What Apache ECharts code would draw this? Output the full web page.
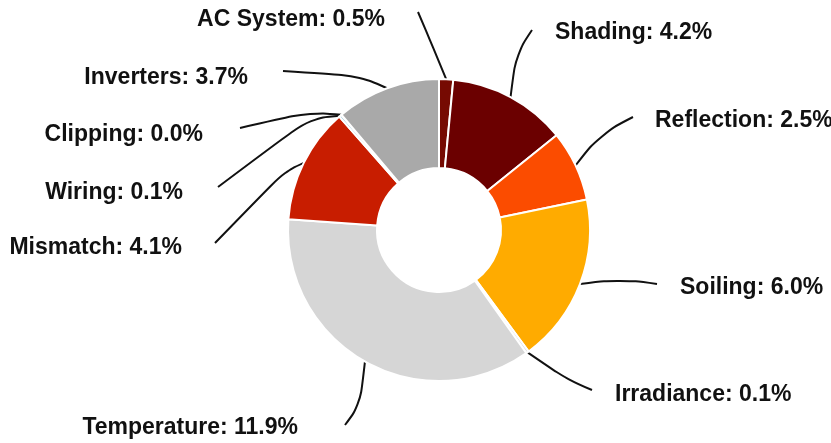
<!DOCTYPE html>
<html lang="en">
<head>
    <meta charset="UTF-8">
    <title>Losses</title>
    <script src="https://cdn.jsdelivr.net/npm/echarts@6/dist/echarts.min.js"></script>
    <style>
        html, body { margin: 0; padding: 0; background: #fff; }
    </style>
</head>
<body>
<div id="main" style="width: 831px;height:443px;"></div>

<script type="text/javascript">
    // data, clockwise from the top
    var categories = ['AC System', 'Shading', 'Reflection', 'Soiling', 'Irradiance',
        'Temperature', 'Mismatch', 'Wiring', 'Clipping', 'Inverters'];
    var lossValues = [0.5, 4.2, 2.5, 6.0, 0.1, 11.9, 4.1, 0.1, 0.0, 3.7];

    // slice colours
    var palette = ['#760a02', '#6b0000', '#fb4c00', '#ffab00', '#dcdcdc',
        '#d6d6d6', '#c81d00', '#a9cfe0', '#8c8c8c', '#a9a9a9'];

    // where each label sits, plus the bend and end of its leader line
    var labelSpots = [
        {x: 385, y: 20, align: 'right', bend: [430, 40], end: [418, 12]},
        {x: 555, y: 33, align: 'left', bend: [516, 54], end: [532, 30]},
        {x: 655, y: 121, align: 'left', bend: [600, 134], end: [633, 117]},
        {x: 680, y: 288, align: 'left', bend: [620, 279], end: [657, 284]},
        {x: 615, y: 395, align: 'left', bend: [568, 380], end: [592, 390]},
        {x: 298, y: 428, align: 'right', bend: [360, 405], end: [345, 425]},
        {x: 182, y: 248, align: 'right', bend: [284, 172], end: [215, 243]},
        {x: 183, y: 193, align: 'right', bend: [310, 118], end: [218, 187]},
        {x: 203, y: 135, align: 'right', bend: [310, 112], end: [240, 128]},
        {x: 248, y: 78, align: 'right', bend: [360, 76], end: [283, 71]}
    ];

    var myChart = echarts.init(document.getElementById('main'));

    var pieData = categories.map(function (name, i) {
        return {name: name, value: lossValues[i], itemStyle: {color: palette[i]}};
    });

    var option = {
        animation: false,
        series: [
            {
                type: 'pie',
                center: [439, 230],
                radius: [62, 151],
                startAngle: 90,
                clockwise: true,
                avoidLabelOverlap: false,
                itemStyle: {
                    borderColor: '#fff',
                    borderWidth: 2
                },
                label: {
                    show: true,
                    position: 'outside',
                    color: '#111',
                    fontFamily: 'Arial',
                    fontWeight: 'bold',
                    fontSize: 23,
                    formatter: function (p) {
                        return p.name + ': ' + p.value.toFixed(1) + '%';
                    }
                },
                labelLine: {
                    show: true,
                    length: 15,
                    length2: 15,
                    smooth: 0.4,
                    lineStyle: {color: '#111', width: 2}
                },
                labelLayout: function (p) {
                    var s = labelSpots[p.dataIndex];
                    var out = {x: s.x, y: s.y, align: s.align, verticalAlign: 'middle'};
                    if (p.labelLinePoints) {
                        out.labelLinePoints = [p.labelLinePoints[0], s.bend, s.end];
                    }
                    return out;
                },
                data: pieData
            }
        ]
    };
    myChart.setOption(option);
</script>
</body>
</html>
